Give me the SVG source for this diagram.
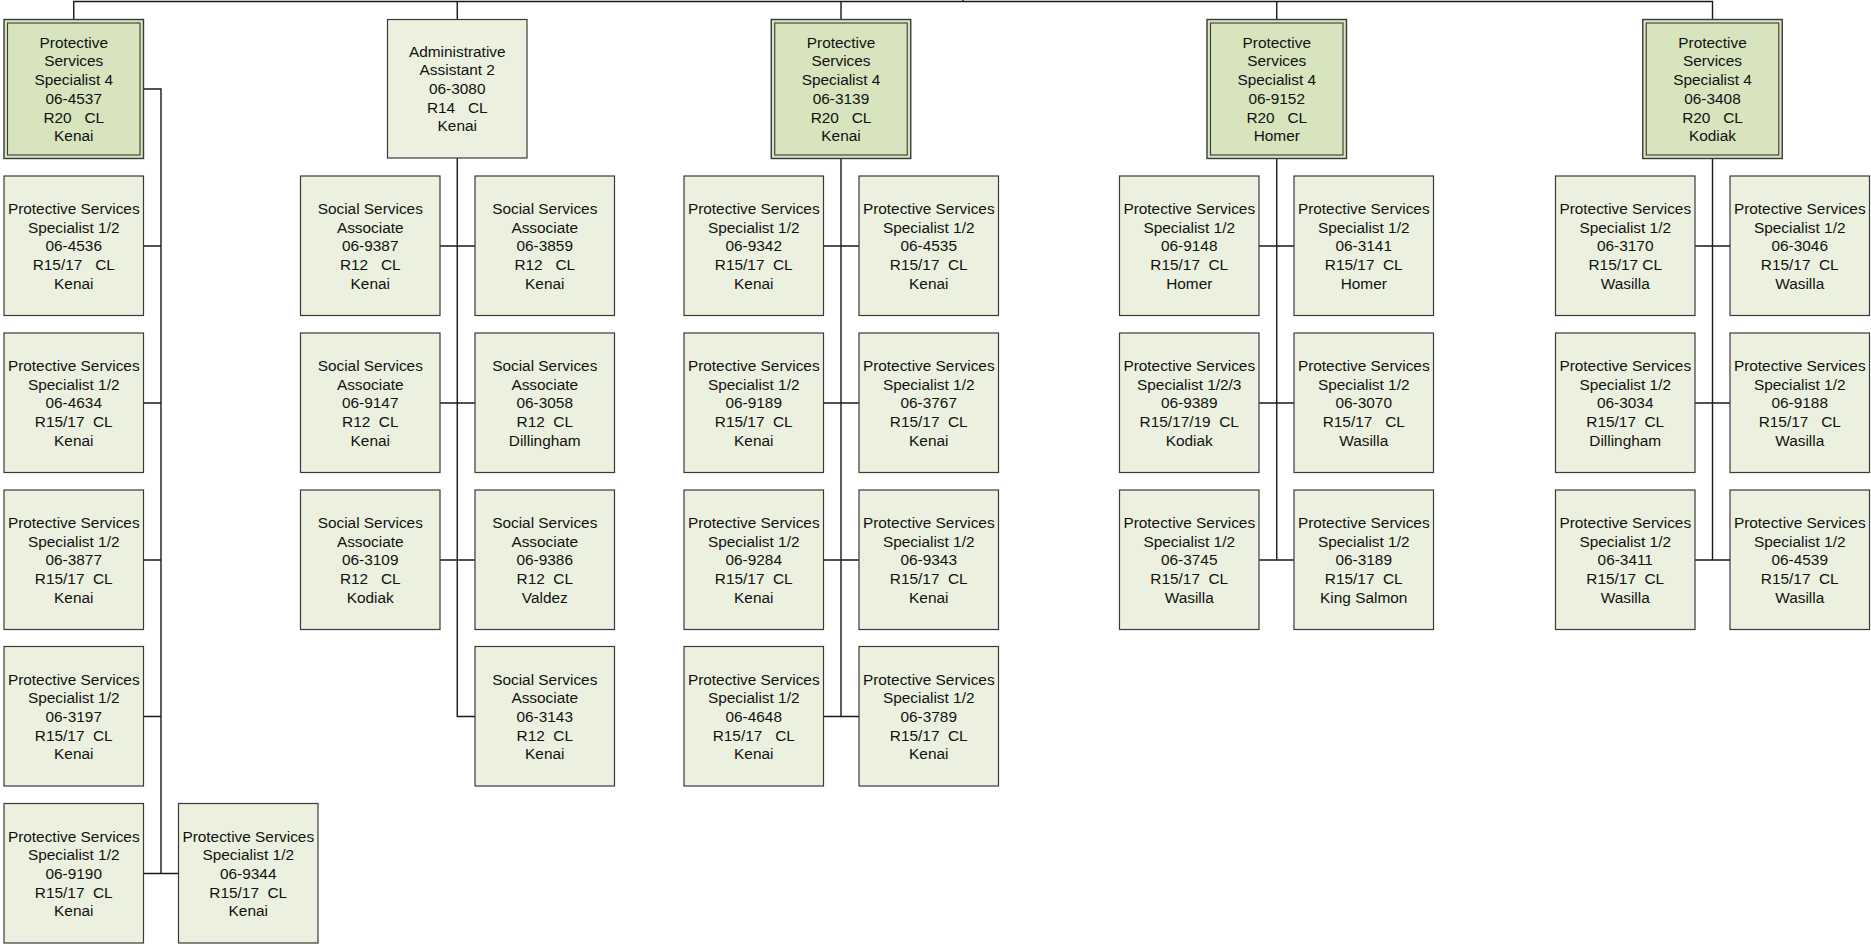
<svg xmlns="http://www.w3.org/2000/svg" width="1871" height="944" viewBox="0 0 1871 944">
<style>
.c{fill:#EBF1DE;stroke:#3a3a3a;stroke-width:1.2}
.h{fill:#D7E4BD;stroke:#3a3a3a;stroke-width:1.4}
.hi{fill:none;stroke:#3a3a3a;stroke-width:1.1}
.t{font-family:"Liberation Sans",Arial,sans-serif;font-size:15.4px;fill:#111;text-anchor:middle}
.ln{fill:none;stroke:#1a1a1a;stroke-width:1.4}
</style>
<rect width="1871" height="944" fill="#fff"/>
<g id="connectors" class="ln">
<path d="M73.75 19.5V1.5H1712.5V19.5M457.25 1.5V19.5M841 1.5V19.5M1276.75 1.5V19.5M963 0V1.5"/>
<path d="M143.5 89H161V873.5M143.5 246H161M143.5 403H161M143.5 560H161M143.5 716.5H161M143.5 873.5H178.5"/>
<path d="M457.25 158V716.5H475M440 246H475M440 403H475M440 560H475"/>
<path d="M841 158.5V716.5M823.5 246H859M823.5 403H859M823.5 560H859M823.5 716.5H859"/>
<path d="M1276.75 158.5V560M1259 246H1294M1259 403H1294M1259 560H1294"/>
<path d="M1712.5 158.5V560M1695 246H1730M1695 403H1730M1695 560H1730"/>
</g>
<g id="head1"><rect class="h" x="4" y="19.5" width="139.5" height="139"/><rect class="hi" x="7.5" y="23" width="132.5" height="132"/><text class="t" y="47.75"><tspan x="73.75">Protective</tspan><tspan x="73.75" dy="18.7">Services</tspan><tspan x="73.75" dy="18.7">Specialist 4</tspan><tspan x="73.75" dy="18.7">06-4537</tspan><tspan x="73.75" dy="18.7">R20&#160;&#160; CL</tspan><tspan x="73.75" dy="18.7">Kenai</tspan></text></g>
<g id="head2"><rect class="c" x="387.5" y="19.5" width="139.5" height="138.5"/><text class="t" y="56.5"><tspan x="457.25">Administrative</tspan><tspan x="457.25" dy="18.7">Assistant 2</tspan><tspan x="457.25" dy="18.7">06-3080</tspan><tspan x="457.25" dy="18.7">R14&#160;&#160; CL</tspan><tspan x="457.25" dy="18.7">Kenai</tspan></text></g>
<g id="head3"><rect class="h" x="771.25" y="19.5" width="139.5" height="139"/><rect class="hi" x="774.75" y="23" width="132.5" height="132"/><text class="t" y="47.75"><tspan x="841">Protective</tspan><tspan x="841" dy="18.7">Services</tspan><tspan x="841" dy="18.7">Specialist 4</tspan><tspan x="841" dy="18.7">06-3139</tspan><tspan x="841" dy="18.7">R20&#160;&#160; CL</tspan><tspan x="841" dy="18.7">Kenai</tspan></text></g>
<g id="head4"><rect class="h" x="1207" y="19.5" width="139.5" height="139"/><rect class="hi" x="1210.5" y="23" width="132.5" height="132"/><text class="t" y="47.75"><tspan x="1276.75">Protective</tspan><tspan x="1276.75" dy="18.7">Services</tspan><tspan x="1276.75" dy="18.7">Specialist 4</tspan><tspan x="1276.75" dy="18.7">06-9152</tspan><tspan x="1276.75" dy="18.7">R20&#160;&#160; CL</tspan><tspan x="1276.75" dy="18.7">Homer</tspan></text></g>
<g id="head5"><rect class="h" x="1642.75" y="19.5" width="139.5" height="139"/><rect class="hi" x="1646.25" y="23" width="132.5" height="132"/><text class="t" y="47.75"><tspan x="1712.5">Protective</tspan><tspan x="1712.5" dy="18.7">Services</tspan><tspan x="1712.5" dy="18.7">Specialist 4</tspan><tspan x="1712.5" dy="18.7">06-3408</tspan><tspan x="1712.5" dy="18.7">R20&#160;&#160; CL</tspan><tspan x="1712.5" dy="18.7">Kodiak</tspan></text></g>

<g id="n-4536"><rect class="c" x="4" y="176" width="139.5" height="139.5"/><text class="t" y="214"><tspan x="73.75">Protective Services</tspan><tspan x="73.75" dy="18.7">Specialist 1/2</tspan><tspan x="73.75" dy="18.7">06-4536</tspan><tspan x="73.75" dy="18.7">R15/17&#160;&#160; CL</tspan><tspan x="73.75" dy="18.7">Kenai</tspan></text></g>
<g id="n-4634"><rect class="c" x="4" y="333" width="139.5" height="139.5"/><text class="t" y="371"><tspan x="73.75">Protective Services</tspan><tspan x="73.75" dy="18.7">Specialist 1/2</tspan><tspan x="73.75" dy="18.7">06-4634</tspan><tspan x="73.75" dy="18.7">R15/17&#160; CL</tspan><tspan x="73.75" dy="18.7">Kenai</tspan></text></g>
<g id="n-3877"><rect class="c" x="4" y="490" width="139.5" height="139.5"/><text class="t" y="528"><tspan x="73.75">Protective Services</tspan><tspan x="73.75" dy="18.7">Specialist 1/2</tspan><tspan x="73.75" dy="18.7">06-3877</tspan><tspan x="73.75" dy="18.7">R15/17&#160; CL</tspan><tspan x="73.75" dy="18.7">Kenai</tspan></text></g>
<g id="n-3197"><rect class="c" x="4" y="646.5" width="139.5" height="139.5"/><text class="t" y="684.5"><tspan x="73.75">Protective Services</tspan><tspan x="73.75" dy="18.7">Specialist 1/2</tspan><tspan x="73.75" dy="18.7">06-3197</tspan><tspan x="73.75" dy="18.7">R15/17&#160; CL</tspan><tspan x="73.75" dy="18.7">Kenai</tspan></text></g>
<g id="n-9190"><rect class="c" x="4" y="803.5" width="139.5" height="139.5"/><text class="t" y="841.5"><tspan x="73.75">Protective Services</tspan><tspan x="73.75" dy="18.7">Specialist 1/2</tspan><tspan x="73.75" dy="18.7">06-9190</tspan><tspan x="73.75" dy="18.7">R15/17&#160; CL</tspan><tspan x="73.75" dy="18.7">Kenai</tspan></text></g>
<g id="n-9344"><rect class="c" x="178.5" y="803.5" width="139.5" height="139.5"/><text class="t" y="841.5"><tspan x="248.25">Protective Services</tspan><tspan x="248.25" dy="18.7">Specialist 1/2</tspan><tspan x="248.25" dy="18.7">06-9344</tspan><tspan x="248.25" dy="18.7">R15/17&#160; CL</tspan><tspan x="248.25" dy="18.7">Kenai</tspan></text></g>

<g id="n-9387"><rect class="c" x="300.5" y="176" width="139.5" height="139.5"/><text class="t" y="214"><tspan x="370.25">Social Services</tspan><tspan x="370.25" dy="18.7">Associate</tspan><tspan x="370.25" dy="18.7">06-9387</tspan><tspan x="370.25" dy="18.7">R12&#160;&#160; CL</tspan><tspan x="370.25" dy="18.7">Kenai</tspan></text></g>
<g id="n-3859"><rect class="c" x="475" y="176" width="139.5" height="139.5"/><text class="t" y="214"><tspan x="544.75">Social Services</tspan><tspan x="544.75" dy="18.7">Associate</tspan><tspan x="544.75" dy="18.7">06-3859</tspan><tspan x="544.75" dy="18.7">R12&#160;&#160; CL</tspan><tspan x="544.75" dy="18.7">Kenai</tspan></text></g>
<g id="n-9147"><rect class="c" x="300.5" y="333" width="139.5" height="139.5"/><text class="t" y="371"><tspan x="370.25">Social Services</tspan><tspan x="370.25" dy="18.7">Associate</tspan><tspan x="370.25" dy="18.7">06-9147</tspan><tspan x="370.25" dy="18.7">R12&#160; CL</tspan><tspan x="370.25" dy="18.7">Kenai</tspan></text></g>
<g id="n-3058"><rect class="c" x="475" y="333" width="139.5" height="139.5"/><text class="t" y="371"><tspan x="544.75">Social Services</tspan><tspan x="544.75" dy="18.7">Associate</tspan><tspan x="544.75" dy="18.7">06-3058</tspan><tspan x="544.75" dy="18.7">R12&#160; CL</tspan><tspan x="544.75" dy="18.7">Dillingham</tspan></text></g>
<g id="n-3109"><rect class="c" x="300.5" y="490" width="139.5" height="139.5"/><text class="t" y="528"><tspan x="370.25">Social Services</tspan><tspan x="370.25" dy="18.7">Associate</tspan><tspan x="370.25" dy="18.7">06-3109</tspan><tspan x="370.25" dy="18.7">R12&#160;&#160; CL</tspan><tspan x="370.25" dy="18.7">Kodiak</tspan></text></g>
<g id="n-9386"><rect class="c" x="475" y="490" width="139.5" height="139.5"/><text class="t" y="528"><tspan x="544.75">Social Services</tspan><tspan x="544.75" dy="18.7">Associate</tspan><tspan x="544.75" dy="18.7">06-9386</tspan><tspan x="544.75" dy="18.7">R12&#160; CL</tspan><tspan x="544.75" dy="18.7">Valdez</tspan></text></g>
<g id="n-3143"><rect class="c" x="475" y="646.5" width="139.5" height="139.5"/><text class="t" y="684.5"><tspan x="544.75">Social Services</tspan><tspan x="544.75" dy="18.7">Associate</tspan><tspan x="544.75" dy="18.7">06-3143</tspan><tspan x="544.75" dy="18.7">R12&#160; CL</tspan><tspan x="544.75" dy="18.7">Kenai</tspan></text></g>

<g id="n-9342"><rect class="c" x="684" y="176" width="139.5" height="139.5"/><text class="t" y="214"><tspan x="753.75">Protective Services</tspan><tspan x="753.75" dy="18.7">Specialist 1/2</tspan><tspan x="753.75" dy="18.7">06-9342</tspan><tspan x="753.75" dy="18.7">R15/17&#160; CL</tspan><tspan x="753.75" dy="18.7">Kenai</tspan></text></g>
<g id="n-4535"><rect class="c" x="859" y="176" width="139.5" height="139.5"/><text class="t" y="214"><tspan x="928.75">Protective Services</tspan><tspan x="928.75" dy="18.7">Specialist 1/2</tspan><tspan x="928.75" dy="18.7">06-4535</tspan><tspan x="928.75" dy="18.7">R15/17&#160; CL</tspan><tspan x="928.75" dy="18.7">Kenai</tspan></text></g>
<g id="n-9189"><rect class="c" x="684" y="333" width="139.5" height="139.5"/><text class="t" y="371"><tspan x="753.75">Protective Services</tspan><tspan x="753.75" dy="18.7">Specialist 1/2</tspan><tspan x="753.75" dy="18.7">06-9189</tspan><tspan x="753.75" dy="18.7">R15/17&#160; CL</tspan><tspan x="753.75" dy="18.7">Kenai</tspan></text></g>
<g id="n-3767"><rect class="c" x="859" y="333" width="139.5" height="139.5"/><text class="t" y="371"><tspan x="928.75">Protective Services</tspan><tspan x="928.75" dy="18.7">Specialist 1/2</tspan><tspan x="928.75" dy="18.7">06-3767</tspan><tspan x="928.75" dy="18.7">R15/17&#160; CL</tspan><tspan x="928.75" dy="18.7">Kenai</tspan></text></g>
<g id="n-9284"><rect class="c" x="684" y="490" width="139.5" height="139.5"/><text class="t" y="528"><tspan x="753.75">Protective Services</tspan><tspan x="753.75" dy="18.7">Specialist 1/2</tspan><tspan x="753.75" dy="18.7">06-9284</tspan><tspan x="753.75" dy="18.7">R15/17&#160; CL</tspan><tspan x="753.75" dy="18.7">Kenai</tspan></text></g>
<g id="n-9343"><rect class="c" x="859" y="490" width="139.5" height="139.5"/><text class="t" y="528"><tspan x="928.75">Protective Services</tspan><tspan x="928.75" dy="18.7">Specialist 1/2</tspan><tspan x="928.75" dy="18.7">06-9343</tspan><tspan x="928.75" dy="18.7">R15/17&#160; CL</tspan><tspan x="928.75" dy="18.7">Kenai</tspan></text></g>
<g id="n-4648"><rect class="c" x="684" y="646.5" width="139.5" height="139.5"/><text class="t" y="684.5"><tspan x="753.75">Protective Services</tspan><tspan x="753.75" dy="18.7">Specialist 1/2</tspan><tspan x="753.75" dy="18.7">06-4648</tspan><tspan x="753.75" dy="18.7">R15/17&#160;&#160; CL</tspan><tspan x="753.75" dy="18.7">Kenai</tspan></text></g>
<g id="n-3789"><rect class="c" x="859" y="646.5" width="139.5" height="139.5"/><text class="t" y="684.5"><tspan x="928.75">Protective Services</tspan><tspan x="928.75" dy="18.7">Specialist 1/2</tspan><tspan x="928.75" dy="18.7">06-3789</tspan><tspan x="928.75" dy="18.7">R15/17&#160; CL</tspan><tspan x="928.75" dy="18.7">Kenai</tspan></text></g>

<g id="n-9148"><rect class="c" x="1119.5" y="176" width="139.5" height="139.5"/><text class="t" y="214"><tspan x="1189.25">Protective Services</tspan><tspan x="1189.25" dy="18.7">Specialist 1/2</tspan><tspan x="1189.25" dy="18.7">06-9148</tspan><tspan x="1189.25" dy="18.7">R15/17&#160; CL</tspan><tspan x="1189.25" dy="18.7">Homer</tspan></text></g>
<g id="n-3141"><rect class="c" x="1294" y="176" width="139.5" height="139.5"/><text class="t" y="214"><tspan x="1363.75">Protective Services</tspan><tspan x="1363.75" dy="18.7">Specialist 1/2</tspan><tspan x="1363.75" dy="18.7">06-3141</tspan><tspan x="1363.75" dy="18.7">R15/17&#160; CL</tspan><tspan x="1363.75" dy="18.7">Homer</tspan></text></g>
<g id="n-9389"><rect class="c" x="1119.5" y="333" width="139.5" height="139.5"/><text class="t" y="371"><tspan x="1189.25">Protective Services</tspan><tspan x="1189.25" dy="18.7">Specialist 1/2/3</tspan><tspan x="1189.25" dy="18.7">06-9389</tspan><tspan x="1189.25" dy="18.7">R15/17/19&#160; CL</tspan><tspan x="1189.25" dy="18.7">Kodiak</tspan></text></g>
<g id="n-3070"><rect class="c" x="1294" y="333" width="139.5" height="139.5"/><text class="t" y="371"><tspan x="1363.75">Protective Services</tspan><tspan x="1363.75" dy="18.7">Specialist 1/2</tspan><tspan x="1363.75" dy="18.7">06-3070</tspan><tspan x="1363.75" dy="18.7">R15/17&#160;&#160; CL</tspan><tspan x="1363.75" dy="18.7">Wasilla</tspan></text></g>
<g id="n-3745"><rect class="c" x="1119.5" y="490" width="139.5" height="139.5"/><text class="t" y="528"><tspan x="1189.25">Protective Services</tspan><tspan x="1189.25" dy="18.7">Specialist 1/2</tspan><tspan x="1189.25" dy="18.7">06-3745</tspan><tspan x="1189.25" dy="18.7">R15/17&#160; CL</tspan><tspan x="1189.25" dy="18.7">Wasilla</tspan></text></g>
<g id="n-3189"><rect class="c" x="1294" y="490" width="139.5" height="139.5"/><text class="t" y="528"><tspan x="1363.75">Protective Services</tspan><tspan x="1363.75" dy="18.7">Specialist 1/2</tspan><tspan x="1363.75" dy="18.7">06-3189</tspan><tspan x="1363.75" dy="18.7">R15/17&#160; CL</tspan><tspan x="1363.75" dy="18.7">King Salmon</tspan></text></g>

<g id="n-3170"><rect class="c" x="1555.5" y="176" width="139.5" height="139.5"/><text class="t" y="214"><tspan x="1625.25">Protective Services</tspan><tspan x="1625.25" dy="18.7">Specialist 1/2</tspan><tspan x="1625.25" dy="18.7">06-3170</tspan><tspan x="1625.25" dy="18.7">R15/17 CL</tspan><tspan x="1625.25" dy="18.7">Wasilla</tspan></text></g>
<g id="n-3046"><rect class="c" x="1730" y="176" width="139.5" height="139.5"/><text class="t" y="214"><tspan x="1799.75">Protective Services</tspan><tspan x="1799.75" dy="18.7">Specialist 1/2</tspan><tspan x="1799.75" dy="18.7">06-3046</tspan><tspan x="1799.75" dy="18.7">R15/17&#160; CL</tspan><tspan x="1799.75" dy="18.7">Wasilla</tspan></text></g>
<g id="n-3034"><rect class="c" x="1555.5" y="333" width="139.5" height="139.5"/><text class="t" y="371"><tspan x="1625.25">Protective Services</tspan><tspan x="1625.25" dy="18.7">Specialist 1/2</tspan><tspan x="1625.25" dy="18.7">06-3034</tspan><tspan x="1625.25" dy="18.7">R15/17&#160; CL</tspan><tspan x="1625.25" dy="18.7">Dillingham</tspan></text></g>
<g id="n-9188"><rect class="c" x="1730" y="333" width="139.5" height="139.5"/><text class="t" y="371"><tspan x="1799.75">Protective Services</tspan><tspan x="1799.75" dy="18.7">Specialist 1/2</tspan><tspan x="1799.75" dy="18.7">06-9188</tspan><tspan x="1799.75" dy="18.7">R15/17&#160;&#160; CL</tspan><tspan x="1799.75" dy="18.7">Wasilla</tspan></text></g>
<g id="n-3411"><rect class="c" x="1555.5" y="490" width="139.5" height="139.5"/><text class="t" y="528"><tspan x="1625.25">Protective Services</tspan><tspan x="1625.25" dy="18.7">Specialist 1/2</tspan><tspan x="1625.25" dy="18.7">06-3411</tspan><tspan x="1625.25" dy="18.7">R15/17&#160; CL</tspan><tspan x="1625.25" dy="18.7">Wasilla</tspan></text></g>
<g id="n-4539"><rect class="c" x="1730" y="490" width="139.5" height="139.5"/><text class="t" y="528"><tspan x="1799.75">Protective Services</tspan><tspan x="1799.75" dy="18.7">Specialist 1/2</tspan><tspan x="1799.75" dy="18.7">06-4539</tspan><tspan x="1799.75" dy="18.7">R15/17&#160; CL</tspan><tspan x="1799.75" dy="18.7">Wasilla</tspan></text></g>
</svg>
